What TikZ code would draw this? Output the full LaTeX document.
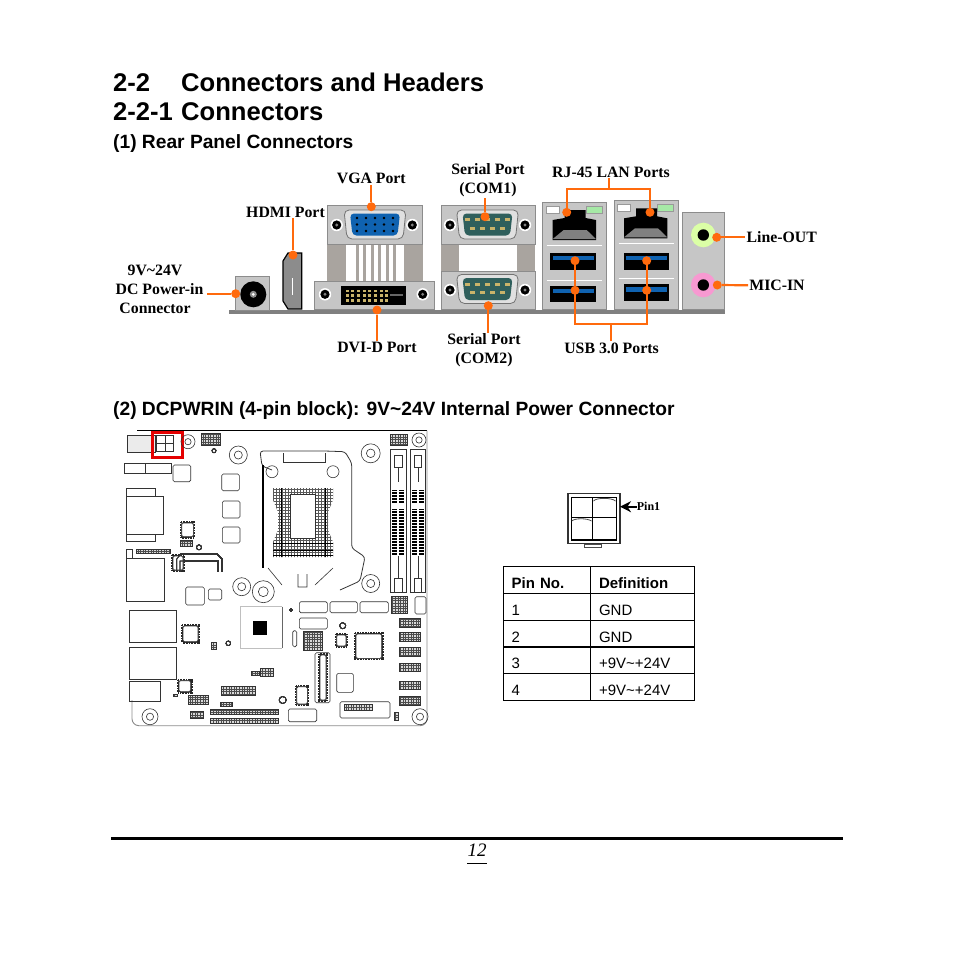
\documentclass[tikz,border=0pt]{standalone}
\usepackage{fontspec}
\setmainfont{Liberation Serif}
\setsansfont{Liberation Sans}
\usetikzlibrary{positioning, arrows.meta}
\definecolor{leaderorange}{HTML}{FF6A0D}
\definecolor{plategray}{HTML}{C6C6C6}
\definecolor{stripgray}{HTML}{A9A49F}
\definecolor{vgablue}{HTML}{0F62B0}
\definecolor{comteal}{HTML}{2F5F5C}
\definecolor{pingold}{HTML}{C9B36A}
\tikzstyle{heading} = [anchor=west, inner sep=0pt, font=\sffamily\bfseries\fontsize{25.6}{29}\selectfont]
\tikzstyle{subheading} = [anchor=west, inner sep=0pt, font=\sffamily\bfseries\fontsize{19.2}{23}\selectfont]
\tikzstyle{portlabel} = [align=center, inner sep=1pt, font=\rmfamily\bfseries\fontsize{15.8}{19}\selectfont]
\tikzstyle{portdot} = [circle, fill=leaderorange, minimum size=9pt, inner sep=0pt]
\tikzstyle{leader} = [draw=leaderorange, line width=2.2pt]
\tikzstyle{plate} = [draw=black!45, fill=plategray, line width=.7pt]
\tikzstyle{part} = [draw=black!80, line width=.6pt]
\tikzstyle{softpart} = [part, rounded corners=1.5pt]
\tikzstyle{cell} = [draw=black, line width=1.1pt, outer sep=0pt, inner sep=0pt, text depth=0pt, text height=17pt, minimum height=26.8pt, font=\sffamily\fontsize{15}{17}\selectfont]
\newcommand\platescrew[2]{\fill[white] (#1,#2) circle (6.2pt); \fill[black] (#1,#2) circle (4.6pt); \fill[black!50] (#1,#2) circle (1.6pt);}
\newcommand\dsubshell[4]{\begin{scope}[shift={(#1,#2)}]
\draw[draw=black!55, fill=black!12, line width=.8pt, rounded corners=5pt] (-31,-14.5) -- (31,-14.5) -- (28,14.5) -- (-28,14.5) -- cycle;
\fill[#3, rounded corners=4pt] (-25,-11) -- (25,-11) -- (22.5,11) -- (-22.5,11) -- cycle;
#4
\end{scope}}
\newcommand\comport[2]{\dsubshell{#1}{#2}{comteal}{
\foreach \i in {-20,-10,...,20} \fill[pingold] (\i-2.6,-6.3) rectangle (\i+2.6,-3.3);
\foreach \i in {-15,-5,...,15} \fill[pingold] (\i-2.6,2) rectangle (\i+2.6,5);}}
\newcommand\lanport[2]{\begin{scope}[shift={(#1,#2)}]
\fill[white, draw=black!40] (-7,-4) rectangle (6.6,3.3);
\fill[black!25!green!35!white, draw=black!40] (33.3,-4) rectangle (49.3,3.3);
\fill[black] (12,0) -- (33,0) -- (33,8) -- (43.3,10) -- (43.3,30) -- (0,30) -- (0,10) -- (12,8) -- cycle;
\fill[black!50] (0,29) -- (11,20) -- (34,20) -- (43.3,29) -- cycle;
\end{scope}}
\newcommand\usbport[3]{\fill[black] (#1,#2) rectangle (#1+45.7,#3);
\fill[vgablue] (#1+2.3,#2+3) rectangle (#1+43.7,#2+7.5);}
\newcommand\hdrblock[4]{\fill[black!15] (#1,#2) rectangle (#3,#4);
\draw[black!70, line width=.5pt, step=2.6pt] (#1,#4) grid (#3,#2);
\draw[part] (#1,#2) rectangle (#3,#4);}
\newcommand\pinchip[4]{\draw[black!85, line width=2.2pt, dash pattern=on .9pt off .7pt] (#1-.8,#2-.8) rectangle (#3+.8,#4+.8);
\draw[softpart, fill=white] (#1,#2) rectangle (#3,#4);}
\newcommand\mounthole[3]{\draw[part] (#1,#2) circle (#3pt); \draw[part] (#1,#2) circle (#3*.45pt);}
\newcommand\dimmslot[2]{\draw[part, line width=.8pt] (#1,449) rectangle (#2,592);
\draw[part] (#1+3.5,455) rectangle (#2-3.5,467); \draw[part] (#1+3.5,592) rectangle (#2-3.5,578);
\draw[part] ({(#1+#2)/2},467) -- ({(#1+#2)/2},482); \draw[part] ({(#1+#2)/2},578) -- ({(#1+#2)/2},556);
\foreach \i in {3.8,10.8} {\draw[black, line width=4.4pt, dash pattern=on 1pt off .5pt] (#1+\i,490) -- (#1+\i,503); \draw[black, line width=4.4pt, dash pattern=on 1pt off .5pt] (#1+\i,509) -- (#1+\i,555);}}

\begin{document}
\begin{tikzpicture}[x=1pt, y=-1pt]
\useasboundingbox[fill=white] (0,0) rectangle (954,954);

% page headings
\node[heading] (head1) at (113,82) {\makebox[68pt][l]{2-2}Connectors and Headers};
\node[heading] (head2) at (113,112) {\makebox[68pt][l]{2-2-1}Connectors};
\node[subheading] (sub1) at (113,144) {(1) Rear Panel Connectors};
\node[subheading] (sub2) at (113,411) {(2) DCPWRIN (4-pin block): 9V\textasciitilde24V Internal Power Connector};

% rear panel
\fill[black!50] (229,310) rectangle (725,313.7);
\draw[plate] (235.7,276) rectangle (269.7,310);
\fill[black] (253.3,294.3) circle (13pt);
\fill[black!45] (253.3,294.3) circle (3.5pt);
\fill[white] (253.3,294.3) circle (1.5pt);
\draw[draw=black, fill=black!45, line width=1.2pt] (283,261) -- (288,253) -- (301.7,253) -- (301.7,309) -- (288,309) -- (283,301) -- cycle;
\fill[white] (291.5,278) rectangle (293,295);
% vga and dvi
\fill[stripgray] (327.3,244) rectangle (422.7,281);
\fill[white] (345.7,244) rectangle (404,281);
\foreach \i in {357,364.5,...,395} \fill[stripgray] (\i-1.5,244) rectangle (\i+1.5,281);
\draw[plate] (327.3,205.7) rectangle (422.7,244);
\platescrew{336.7}{225}
\platescrew{412.3}{225}
\dsubshell{375}{224.5}{vgablue}{
\foreach \i in {-18,-9,...,18} \foreach \j in {-6.5,0,6.5} \fill[black] (\i,\j) circle (1.4pt);}
\draw[plate] (314,281) rectangle (434,309);
\platescrew{325}{294.3}
\platescrew{422.7}{294.3}
\fill[black] (341,286) rectangle (406,305);
\foreach \i in {347,352.7,...,388} \foreach \j in {291,295.5,300.5} \fill[pingold] (\i-1.5,\j-1.1) rectangle (\i+1.5,\j+1.1);
\fill[black!60] (390,294) rectangle (403,296);
% serial ports
\fill[stripgray] (441,244) rectangle (535,271);
\fill[white] (459,244) rectangle (517,271);
\draw[plate] (441,205.7) rectangle (535,244);
\draw[plate] (441,271) rectangle (535,309);
\platescrew{450}{225}
\platescrew{525}{225}
\platescrew{450}{290}
\platescrew{525}{290}
\comport{487.5}{224.5}
\comport{487.5}{289}
% lan and usb stacks
\draw[plate] (542,202) rectangle (606,309);
\draw[plate] (614,200) rectangle (678,309);
\lanport{552.7}{210}
\lanport{624}{208.3}
\foreach \i/\j in {546.7/245.7, 546.7/280, 618.7/243.3, 618.7/278.3} \draw[white, line width=.9pt] (\i,\j) -- (\i+55.6,\j);
\usbport{550.3}{252.7}{270}
\usbport{550.3}{285.7}{302.3}
\usbport{623.7}{252.7}{270}
\usbport{623.7}{284.3}{301}
% audio jacks
\draw[plate] (682.7,212) rectangle (724,309);
\fill[green!40!yellow!35!white] (703.3,235) circle (12.3pt);
\fill[magenta!40!white] (703.3,285) circle (12.3pt);
\fill[black] (703.3,235) circle (5.7pt);
\fill[black] (703.3,285) circle (5.7pt);

% port labels and leaders
\node[portdot] (jackdot) at (235.7,293.7) {};
\node[portdot] (hdmidot) at (293,255) {};
\node[portdot] (vgadot) at (371.3,206.7) {};
\node[portdot] (dvidot) at (377,310) {};
\node[portdot] (com1dot) at (485,216.7) {};
\node[portdot] (com2dot) at (488.3,305.7) {};
\node[portdot] (lan1dot) at (566.7,212.3) {};
\node[portdot] (lan2dot) at (650,212.3) {};
\node[portdot] (usb1dot) at (575,260.7) {};
\node[portdot] (usb2dot) at (575,290.3) {};
\node[portdot] (usb3dot) at (646.7,260.7) {};
\node[portdot] (usb4dot) at (646.7,290.3) {};
\node[portdot] (linedot) at (716.7,237.3) {};
\node[portdot] (micdot) at (717.3,285) {};
\node[portlabel] (jacklbl) at (155,289.5) {9V\textasciitilde24V\\\hspace*{9pt}DC Power-in\\Connector};
\node[portlabel] (hdmilbl) at (285.5,212) {HDMI Port};
\node[portlabel] (vgalbl) [above=17pt of vgadot] {VGA Port};
\node[portlabel] (dvilbl) [below=26pt of dvidot] {DVI-D Port};
\node[portlabel] (com1lbl) at (488,180.5) {Serial Port\\(COM1)};
\node[portlabel] (com2lbl) at (484,350.5) {Serial Port\\(COM2)};
\node[portlabel] (lanlbl) at (611,172) {RJ-45 LAN Ports};
\node[portlabel] (usblbl) at (611.5,348) {USB 3.0 Ports};
\node[portlabel] (linelbl) [right=24pt of linedot] {Line-OUT};
\node[portlabel] (miclbl) at (777,285.5) {MIC-IN};
\coordinate (jackend) at (207,293.7);
\coordinate (lanbus) at (609,189.3);
\coordinate (usbbus) at (610.7,324);
\draw[leader] (jackend) -- (jackdot);
\draw[leader] (hdmilbl.south -| hdmidot) -- (hdmidot);
\draw[leader] (vgalbl) -- (vgadot);
\draw[leader] (dvilbl) -- (dvidot);
\draw[leader] (com1lbl.south -| com1dot) -- (com1dot);
\draw[leader] (com2lbl.north -| com2dot) -- (com2dot);
\draw[leader] (lan1dot) |- (lanbus) -| (lan2dot);
\draw[leader] (lanlbl.south -| lanbus) -- (lanbus);
\draw[leader] (usb1dot) |- (usbbus) -| (usb3dot);
\draw[leader] (usblbl.north -| usbbus) -- (usbbus);
\draw[leader] (linedot) -- (linelbl);
\draw[leader] (micdot) -- (miclbl);

% board outline
\draw[black, line width=1pt] (137,430.7) -- (427,430.7);
\draw[black!45, line width=.9pt, rounded corners=7pt] (427,430.7) -- (427,725.7) -- (132,725.7) -- (132,700);
% board, rear side parts
\draw[part, fill=black!8] (127,435) rectangle (155,452.7);
\draw[part, fill=white] (156.7,435) rectangle (173.3,451.7);
\draw[part, line width=.9pt] (165,435) -- (165,451.7) (156.7,443.3) -- (173.3,443.3);
\draw[red!90!black, line width=3pt] (152.5,432) rectangle (182.5,457.5);
\foreach \x/\y/\X/\Y in {126.7/496.7/163.3/534.3, 126.7/488/155/496.7, 126.7/534.3/155/541.7, 126.7/558/164/601.7, 126.7/549/132/558, 129.3/610.7/176.7/642.3, 129.3/647.3/176.7/679.3, 129.3/681.7/160/701.7, 124/463/145/473, 145/463/171.7/473}
\draw[part] (\x,\y) rectangle (\X,\Y);
% board, boxes
\foreach \x/\y/\X/\Y in {173/465/190.7/481.7, 221.7/474/239.3/490.7, 222.3/501/240/518, 222.3/527/240/543, 185.7/587/204.3/605, 208.3/589/221.7/600, 336.7/673.3/353.3/692.3, 292.7/630.7/296.7/646.7, 315/652.7/330/702.7, 340/701.7/390/718, 288.3/709/316.7/721.7, 299.3/601.7/327.3/612.7, 330/601.7/357.3/612.7, 360/601.7/388.3/612.7, 299.3/618/327.3/629, 415/596.7/426/614}
\draw[softpart] (\x,\y) rectangle (\X,\Y);
% board, headers
\foreach \x/\y/\X/\Y in {201/433/220/445, 390.7/434/407.3/445, 136.7/549/170/553, 180/540.7/192.7/546.7, 221.7/686.7/255/695, 188.3/695.7/208.3/704, 210/709/278/714, 210/718/278/723, 190.7/711.7/203/718, 220/702.7/232.7/706, 260.7/668/273.3/676.7, 251.7/671.7/259/675, 211.7/642/216/649, 173/694/177/696.7, 391.7/596.7/407.3/613.3, 399/618/420/627.7, 399/632.7/420/641, 399/647.7/420/656, 399/663.3/420/671.7, 399/681/420/689.3, 399/696.7/420/705, 394/712.3/398.3/720, 303/631.7/322/650.7, 344/704/372/710}
\hdrblock{\x}{\y}{\X}{\Y}
% board, chips
\foreach \x/\y/\X/\Y in {183/626/198/641.7, 179/680.7/190.7/691.7, 356/634/381.7/658.3, 296.7/686.7/307.3/704, 181.7/523/193.3/536.7, 173/556/183/570, 336.7/635/346/646, 320/655/326/700}
\pinchip{\x}{\y}{\X}{\Y}
\draw[part] (176.7,571) -- (176.7,559) -- (181,554) -- (217,554) -- (221.7,559) -- (221.7,571) (180,571) -- (180,561) -- (218,561) -- (218,571);
% board, holes and capacitors
\foreach \x/\y/\r in {238.3/455/9, 188/441.7/7, 370.7/453.3/9.5, 370.7/583.5/9, 419/440/7, 150/716.7/8, 420/716.7/8, 241.7/586.7/9, 263.3/591.7/11}
\mounthole{\x}{\y}{\r}
\foreach \x/\y/\r in {214/450.7/2, 199/547.3/2.5, 228.3/643.3/2.3, 342.7/625.7/3, 282.7/700/3.5, 291/610/1.5}
\draw[part] (\x,\y) circle (\r pt);
% pch
\draw[black!25, line width=.6pt] (240,606.7) -- (282,606.7) (240,606.7) -- (240,648) -- (282,648);
\draw[black!60, line width=.7pt] (282,606.7) -- (282,648);
\fill[black] (253.3,620.7) rectangle (267.3,635);
% cpu socket
\draw[part, line width=.8pt, rounded corners=3pt] (272,470) -- (262,466) -- (260,451) -- (325,451) -- (345,451.7) -- (351.7,463) -- (351.7,548) -- (365,557) -- (360,581) -- (340,590);
\draw[black, line width=1.6pt] (262.7,465) -- (262.7,568);
\draw[part] (272,471.7) circle (6pt);
\draw[part] (333,471.7) circle (6pt);
\draw[part] (283,453) -- (283,462) -- (325,462) -- (325,453);
\draw[part] (268,568) -- (282,585) (333,568) -- (315,585) (298,574) -- (298,587) -- (307,587) -- (307,574);
\begin{scope}
\clip (273,488) -- (333,488) -- (333,500) -- (328,512) -- (328,530) -- (333,542) -- (333,557) -- (273,557) -- (273,542) -- (278,530) -- (278,512) -- (273,500) -- cycle;
\draw[black!65, line width=.4pt, step=3pt] (270,560) grid (336,486);
\draw[black, line width=.9pt] (270,543) -- (336,543) (270,550) -- (336,550) (270,555) -- (336,555) (281,486) -- (281,560) (325,486) -- (325,560);
\end{scope}
\fill[white] (290,494) rectangle (315,538);
\draw[part] (290,494) rectangle (315,538);
\dimmslot{390.7}{406}
\dimmslot{410.7}{425}

% 4-pin block
\node[draw=black!80, line width=1.5pt, minimum width=52pt, minimum height=50pt, inner sep=0pt, outer sep=0pt] (pinblock) at (594,518.7) {};
\draw[black, line width=1pt] (571,497) rectangle (616.5,540);
\draw[black, line width=1.5pt] (592.7,497) -- (592.7,540);
\draw[black, line width=1.2pt] (571,517.3) -- (616.5,517.3);
\draw[black, line width=1.6pt] (571,540) -- (616.5,540);
\draw[black!70, line width=.8pt] (594,500) (593.5,501) .. controls (596,497.5) and (612,497.5) .. (615.5,501);
\draw[black!70, line width=.8pt] (571.7,521) .. controls (575,518) and (587,518) .. (591.5,521);
\draw[black!70, line width=.8pt] (584.3,544) rectangle (601.7,547.7);
\node[inner sep=0pt, font=\rmfamily\bfseries\fontsize{12}{13}\selectfont] (pinlbl) at (648.5,506.7) {Pin1};
\draw[line width=2pt, -{Stealth[length=11pt, width=11pt]}] (pinlbl) -- (pinblock.east |- pinlbl);

% pin table
\node[cell, minimum width=86.7pt, text width=70pt] (h1) at (546.7,580) {\textbf{Pin No.}};
\node[cell, minimum width=104pt, text width=86pt, right=0pt of h1] (h2) {\textbf{Definition}};
\node[cell, minimum width=86.7pt, text width=70pt, below=0pt of h1] (p1) {1};
\node[cell, minimum width=104pt, text width=86pt, right=0pt of p1] (d1) {GND};
\node[cell, minimum width=86.7pt, text width=70pt, below=0pt of p1] (p2) {2};
\node[cell, minimum width=104pt, text width=86pt, right=0pt of p2] (d2) {GND};
\node[cell, minimum width=86.7pt, text width=70pt, below=0pt of p2] (p3) {3};
\node[cell, minimum width=104pt, text width=86pt, right=0pt of p3] (d3) {+9V\textasciitilde+24V};
\node[cell, minimum width=86.7pt, text width=70pt, below=0pt of p3] (p4) {4};
\node[cell, minimum width=104pt, text width=86pt, right=0pt of p4] (d4) {+9V\textasciitilde+24V};

% footer
\draw[black, line width=3pt] (111,838) -- (843,838);
\node[inner sep=0pt, font=\rmfamily\itshape\fontsize{19}{21}\selectfont] (pagenum) at (477,850) {12};
\draw[black, line width=.6pt] (467,863.5) -- (487,863.5);
\end{tikzpicture}
\end{document}
